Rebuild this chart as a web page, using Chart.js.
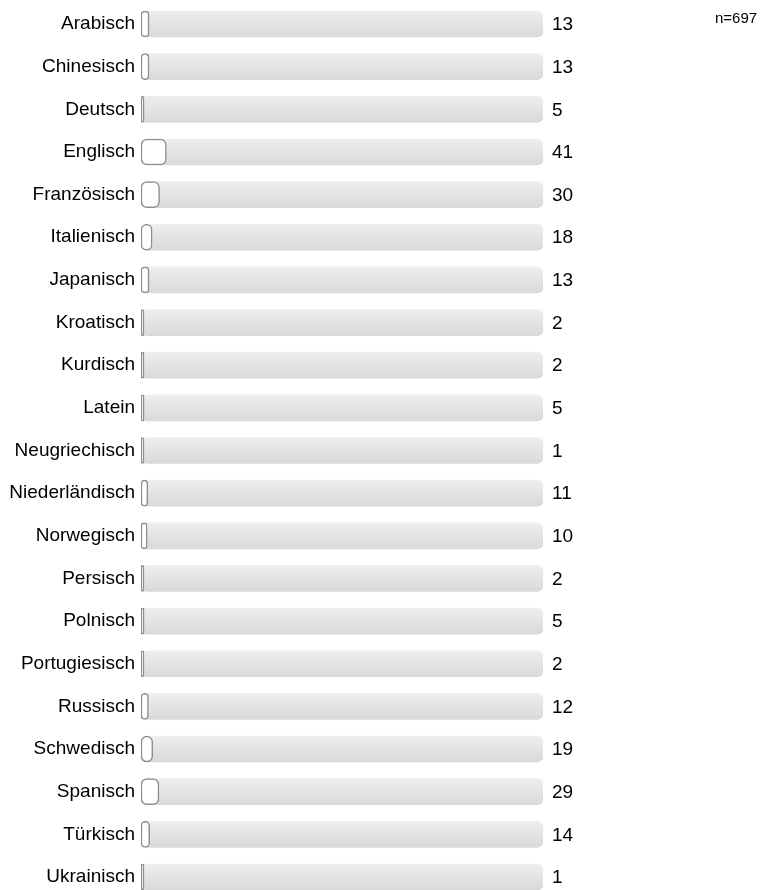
<!DOCTYPE html>
<html lang="de">
<head>
<meta charset="utf-8">
<title>Sprachen</title>
<script src="https://cdn.jsdelivr.net/npm/chart.js@4/dist/chart.umd.min.js"></script>
<style>
  html, body { margin: 0; padding: 0; background: #fff; overflow: hidden; }
  #wrap { width: 777px; height: 890px; overflow: hidden; }
  canvas { display: block; }
</style>
</head>
<body>
<div id="wrap"><canvas id="sprachenChart" width="777" height="900"></canvas></div>
<script>
const languages = [
  "Arabisch", "Chinesisch", "Deutsch", "Englisch", "Französisch", "Italienisch",
  "Japanisch", "Kroatisch", "Kurdisch", "Latein", "Neugriechisch", "Niederländisch",
  "Norwegisch", "Persisch", "Polnisch", "Portugiesisch", "Russisch", "Schwedisch",
  "Spanisch", "Türkisch", "Ukrainisch"
];
const counts = [13, 13, 5, 41, 30, 18, 13, 2, 2, 5, 1, 11, 10, 2, 5, 2, 12, 19, 29, 14, 1];
const totalN = 697;
const scaleMax = 650;

const FONT = "'Liberation Sans', Arial, sans-serif";
const BAR_H = 26;

// grey track behind every bar, light at the top, darker at the bottom
function trackFill(ctx) {
  const chart = ctx.chart;
  const y = chart.scales.y;
  if (!y || !chart.chartArea) return "#e3e3e3";
  const cy = y.getPixelForValue(ctx.dataIndex);
  const g = chart.ctx.createLinearGradient(0, cy - BAR_H / 2, 0, cy + BAR_H / 2);
  g.addColorStop(0, "#eeeeee");
  g.addColorStop(1, "#d9d9d9");
  return g;
}

const valueLabels = {
  id: "valueLabels",
  afterDatasetsDraw(chart) {
    const { ctx, chartArea, scales } = chart;
    ctx.save();
    ctx.fillStyle = "#000";
    ctx.font = "19px " + FONT;
    ctx.textAlign = "left";
    ctx.textBaseline = "middle";
    counts.forEach((v, i) => {
      ctx.fillText(String(v), chartArea.right + 9, scales.y.getPixelForValue(i) + 1);
    });
    ctx.font = "15px " + FONT;
    ctx.fillText("n=" + totalN, chartArea.right + 172, 19);
    ctx.restore();
  }
};

new Chart(document.getElementById("sprachenChart"), {
  type: "bar",
  data: {
    labels: languages,
    datasets: [
      {
        data: counts,
        backgroundColor: "#ffffff",
        borderColor: "#8e8e8e",
        borderWidth: 1.5,
        borderRadius: 6,
        borderSkipped: false,
        minBarLength: 3,
        barThickness: BAR_H
      },
      {
        data: languages.map(() => scaleMax),
        backgroundColor: trackFill,
        borderWidth: 0,
        borderRadius: 6,
        borderSkipped: false,
        barThickness: BAR_H
      }
    ]
  },
  options: {
    indexAxis: "y",
    responsive: false,
    animation: false,
    datasets: { bar: { grouped: false } },
    layout: { padding: { top: 2.7, right: 234, bottom: 1.7, left: 0 } },
    scales: {
      x: { display: false, min: 0, max: scaleMax },
      y: {
        grid: { display: false, drawTicks: false },
        border: { display: false },
        ticks: { color: "#000", padding: 6, font: { family: FONT, size: 19 } },
        afterFit(scale) {
          scale.width = 141;
          scale.paddingTop = 0;
          scale.paddingBottom = 0;
        }
      }
    },
    plugins: {
      legend: { display: false },
      tooltip: { enabled: false }
    }
  },
  plugins: [valueLabels]
});
</script>
</body>
</html>
